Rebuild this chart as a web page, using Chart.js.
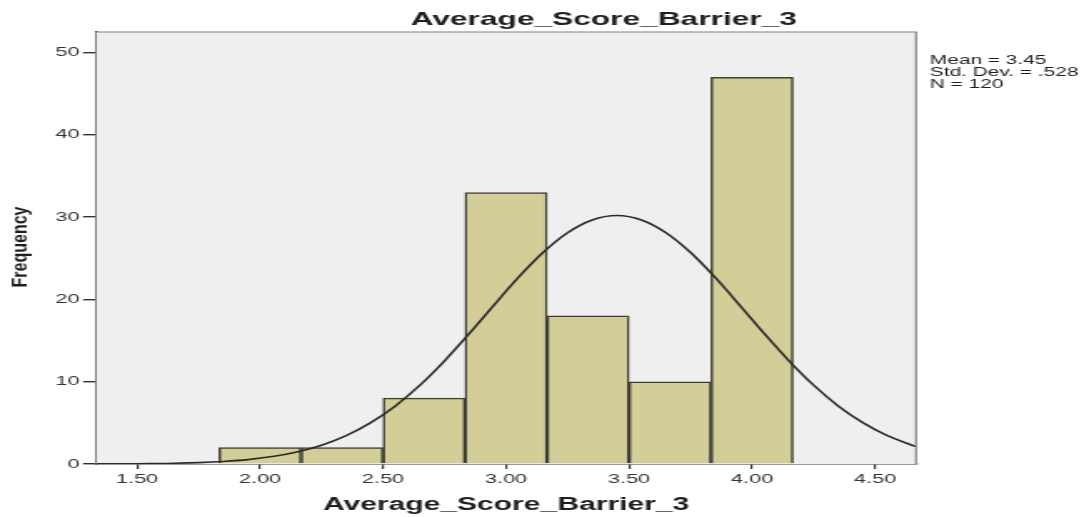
<!DOCTYPE html>
<html>
<head>
<meta charset="utf-8">
<script src="https://cdn.jsdelivr.net/npm/chart.js@4"></script>
<style>
  body { margin: 0; background: #fff; }
  #chart { display: block; }
</style>
</head>
<body>
<!-- the source picture is stretched sideways, so the canvas is drawn narrow and widened by css -->
<canvas id="chart" width="653" height="517" style="width:1089px;height:517px"></canvas>
<script>
const chartTitle = "Average_Score_Barrier_3";
const xTitle = "Average_Score_Barrier_3";
const yTitle = "Frequency";
const statsLines = ["Mean = 3.45", "Std. Dev. = .528", "N = 120"];

// histogram bins (centre of each bin) and counts
const binCenters = [2.0, 2.3333, 2.6667, 3.0, 3.3333, 3.6667, 4.0];
const frequencies = [2, 2, 8, 33, 18, 10, 47];

// normal curve
const curveX = [1.3333, 1.35, 1.45, 1.55, 1.65, 1.75, 1.85, 1.95, 2.05, 2.15, 2.25, 2.35, 2.45, 2.55,
  2.65, 2.75, 2.85, 2.95, 3.05, 3.15, 3.25, 3.35, 3.45, 3.55, 3.65, 3.75, 3.85, 3.95, 4.05, 4.15,
  4.25, 4.35, 4.45, 4.55, 4.65, 4.6667];
const curveY = [0.01, 0.01, 0.02, 0.05, 0.09, 0.17, 0.31, 0.53, 0.90, 1.46, 2.28, 3.45, 5.03, 7.06,
  9.58, 12.54, 15.83, 19.29, 22.67, 25.70, 28.11, 29.66, 30.20, 29.66, 28.11, 25.70, 22.67, 19.29, 15.83, 12.54,
  9.58, 7.06, 5.03, 3.45, 2.28, 2.12];

const xTickValues = [1.5, 2.0, 2.5, 3.0, 3.5, 4.0, 4.5];
const xTickLabels = ["1.50", "2.00", "2.50", "3.00", "3.50", "4.00", "4.50"];
const yTickValues = [0, 10, 20, 30, 40, 50];
const yTickLabels = ["0", "10", "20", "30", "40", "50"];

const FONT = "'Liberation Sans', Arial, sans-serif";

let histPlugin = {
    id: "histDecor",
    beforeDatasetsDraw(chart) {
        let ctx = chart.ctx;
        let a = chart.chartArea;
        ctx.save();
        ctx.fillStyle = "#efefef";
        ctx.fillRect(a.left, a.top, a.right - a.left, a.bottom - a.top);
        ctx.restore();
    },
    afterDraw(chart) {
        let ctx = chart.ctx;
        let a = chart.chartArea;
        ctx.save();
        // frame on top and right
        ctx.strokeStyle = "#808080";
        ctx.lineWidth = 1.2;
        ctx.beginPath();
        ctx.moveTo(a.left, a.top);
        ctx.lineTo(a.right, a.top);
        ctx.lineTo(a.right, a.bottom);
        ctx.stroke();

        ctx.fillStyle = "#1e1e1e";
        ctx.textBaseline = "alphabetic";

        ctx.font = "bold 19px " + FONT;
        ctx.textAlign = "center";
        ctx.fillText(chartTitle, 362, 25);

        ctx.font = "bold 18px " + FONT;
        ctx.fillText(xTitle, (a.left + a.right) / 2, 510);

        ctx.save();
        ctx.translate(16, 247);
        ctx.scale(0.8, 1);
        ctx.rotate(-Math.PI / 2);
        ctx.font = "bold 16px " + FONT;
        ctx.fillText(yTitle, 0, 0);
        ctx.restore();

        ctx.font = "12.5px " + FONT;
        ctx.textAlign = "left";
        statsLines.forEach((t, i) => ctx.fillText(t, 557.6, 64.3 + i * 11.6));
        ctx.restore();
    }
};

new Chart("chart", {
    type: "bar",
    data: {
        datasets: [
            {
                type: "line",
                data: curveX.map((x, i) => ({ x: x, y: curveY[i] })),
                borderColor: "#2a2a2a",
                borderWidth: 1.6,
                pointRadius: 0,
                tension: 0.3,
                fill: false,
                order: 0
            },
            {
                data: binCenters.map((x, i) => ({ x: x, y: frequencies[i] })),
                backgroundColor: "#d3ce97",
                borderColor: "#3f3f37",
                borderWidth: 1.5,
                borderSkipped: "bottom",
                barPercentage: 1,
                categoryPercentage: 1,
                order: 1
            }
        ]
    },
    plugins: [histPlugin],
    options: {
        responsive: false,
        devicePixelRatio: 1,
        animation: false,
        layout: { padding: { top: 32, right: 103.7, left: 0, bottom: 0 } },
        plugins: {
            legend: { display: false },
            tooltip: { enabled: false },
            title: { display: false }
        },
        scales: {
            x: {
                type: "linear",
                min: 1.3333,
                max: 4.6667,
                offset: false,
                afterFit: (s) => { s.height = 53; },
                afterBuildTicks: (s) => { s.ticks = xTickValues.map(v => ({ value: v })); },
                ticks: {
                    callback: (v) => xTickLabels[xTickValues.indexOf(v)],
                    font: { family: FONT, size: 13 },
                    color: "#333",
                    padding: 3,
                    maxRotation: 0,
                    autoSkip: false
                },
                grid: { offset: false, drawOnChartArea: false, drawTicks: true, tickLength: 5, color: "#333", lineWidth: 1.2 },
                border: { display: true, color: "#333", width: 1.4 }
            },
            y: {
                min: 0,
                max: 52.5,
                afterFit: (s) => { s.width = 57.6; },
                afterBuildTicks: (s) => { s.ticks = yTickValues.map(v => ({ value: v })); },
                ticks: {
                    callback: (v) => yTickLabels[yTickValues.indexOf(v)],
                    font: { family: FONT, size: 13 },
                    color: "#333",
                    padding: 2
                },
                grid: { drawOnChartArea: false, drawTicks: true, tickLength: 7.8, color: "#333", lineWidth: 1.4 },
                border: { display: true, color: "#333", width: 1.4 }
            }
        }
    }
});
</script>
</body>
</html>
